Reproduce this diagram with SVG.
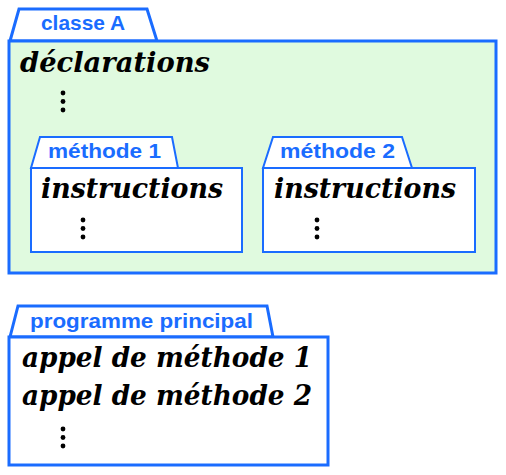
<svg xmlns="http://www.w3.org/2000/svg" width="506" height="475" viewBox="0 0 506 475">
  <style>
    .frame { stroke: #1a6cff; stroke-width: 3; stroke-linejoin: miter; }
    .inner { stroke: #1a6cff; stroke-width: 2; stroke-linejoin: miter; }
    .tab { font-family: "Liberation Sans", "Noto Sans", sans-serif; font-weight: bold; font-size: 21px; fill: #1a6cff; }
    .code { font-family: "DejaVu Serif", "Liberation Serif", serif; font-weight: bold; font-style: italic; font-size: 28px; fill: #000; }
    .dot { fill: #000; }
  </style>
  <defs>
    <g id="vdots">
      <circle class="dot" cx="0" cy="0" r="2.4"/>
      <circle class="dot" cx="0" cy="8.5" r="2.4"/>
      <circle class="dot" cx="0" cy="17" r="2.4"/>
    </g>
  </defs>

  <!-- class frame -->
  <g id="classe-a">
    <path class="frame" d="M10 41 L19 9 L147 9 L157 41 Z" fill="#ffffff"/>
    <rect class="frame" x="9" y="41" width="487" height="232" fill="#e0fadf"/>
    <text class="tab" x="41" y="30" textLength="84" lengthAdjust="spacingAndGlyphs">classe A</text>
    <text class="code" x="20" y="72" textLength="190" lengthAdjust="spacingAndGlyphs">déclarations</text>
    <use href="#vdots" x="63" y="93"/>
  </g>

  <!-- method 1 -->
  <g id="methode-1">
    <path class="inner" d="M31 168 L40 137 L172 137 L178 168 Z" fill="#ffffff"/>
    <rect class="inner" x="31" y="168" width="211" height="84" fill="#ffffff"/>
    <text class="tab" x="48" y="158" textLength="113" lengthAdjust="spacingAndGlyphs">méthode 1</text>
    <text class="code" x="41" y="198" textLength="182" lengthAdjust="spacingAndGlyphs">instructions</text>
    <use href="#vdots" x="83" y="220"/>
  </g>

  <!-- method 2 -->
  <g id="methode-2">
    <path class="inner" d="M263 168 L273 137 L402 137 L412 168 Z" fill="#ffffff"/>
    <rect class="inner" x="263" y="168" width="212" height="84" fill="#ffffff"/>
    <text class="tab" x="280" y="158" textLength="115" lengthAdjust="spacingAndGlyphs">méthode 2</text>
    <text class="code" x="274" y="198" textLength="182" lengthAdjust="spacingAndGlyphs">instructions</text>
    <use href="#vdots" x="317" y="220"/>
  </g>

  <!-- main program -->
  <g id="programme-principal">
    <path class="frame" d="M10 337 L18 306 L267 306 L273 337 Z" fill="#ffffff"/>
    <rect class="frame" x="9" y="337" width="319" height="128" fill="#ffffff"/>
    <text class="tab" x="30" y="328" textLength="223" lengthAdjust="spacingAndGlyphs">programme principal</text>
    <text class="code" x="22" y="367" textLength="290" lengthAdjust="spacingAndGlyphs">appel de méthode 1</text>
    <text class="code" x="22" y="405" textLength="290" lengthAdjust="spacingAndGlyphs">appel de méthode 2</text>
    <use href="#vdots" x="63" y="429"/>
  </g>

  <g id="connectors"/>
</svg>
